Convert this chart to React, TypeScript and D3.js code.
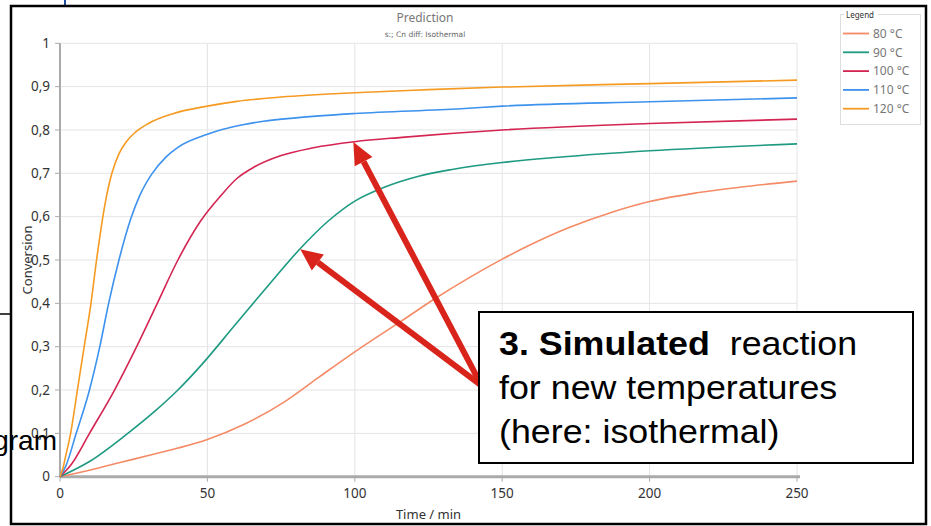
import React from "react";
import * as d3 from "d3";

// Isothermal conversion predictions, time in minutes
const series = ["80 °C", "90 °C", "100 °C", "110 °C", "120 °C"];
const colors = ["#F58B66", "#1E9A82", "#D42452", "#3D92EE", "#F59B22"];

const t80 = [0, 10, 20, 30, 40, 50, 62.5, 76, 87.5, 100, 116, 127, 139, 150, 158, 172.7, 187.5, 200, 216, 232, 250];
const v80 = [0, 0.015, 0.032, 0.049, 0.066, 0.086, 0.121, 0.172, 0.228, 0.288, 0.36, 0.41, 0.46, 0.502, 0.53, 0.575, 0.611, 0.635, 0.655, 0.669, 0.682];

const t90 = [0, 10, 23, 32, 40, 48, 59, 70.5, 82, 91, 100, 110, 122, 133, 150, 169, 200, 250];
const v90 = [0, 0.035, 0.1, 0.15, 0.2, 0.258, 0.347, 0.44, 0.53, 0.59, 0.636, 0.668, 0.694, 0.709, 0.725, 0.737, 0.752, 0.768];

const t100 = [0, 4, 10, 18.5, 26, 33, 40, 47.7, 54.5, 60, 66, 75, 86, 100, 116, 150, 200, 250];
const v100 = [0, 0.03, 0.1, 0.2, 0.3, 0.4, 0.5, 0.59, 0.648, 0.688, 0.715, 0.741, 0.759, 0.773, 0.783, 0.8, 0.815, 0.825];

const t110 = [0, 2, 5.5, 10, 13.5, 16.5, 20, 24, 27, 31, 36, 40, 50, 55, 62, 69, 80, 100, 136, 150, 200, 250];
const v110 = [0, 0.025, 0.1, 0.2, 0.3, 0.4, 0.5, 0.595, 0.648, 0.697, 0.738, 0.76, 0.79, 0.801, 0.812, 0.82, 0.828, 0.838, 0.849, 0.855, 0.865, 0.874];

const t120 = [0, 1, 2, 3.6, 5.9, 8.2, 10.5, 12.4, 15.3, 17.6, 20, 22.5, 25.6, 30, 38, 50, 60, 75, 100, 125, 150, 200, 250];
const v120 = [0, 0.02, 0.05, 0.1, 0.2, 0.3, 0.4, 0.5, 0.63, 0.7, 0.745, 0.773, 0.795, 0.815, 0.837, 0.855, 0.866, 0.876, 0.886, 0.893, 0.899, 0.907, 0.915];

const times = [t80, t90, t100, t110, t120];
const values = [v80, v90, v100, v110, v120];

const xTicks = [0, 50, 100, 150, 200, 250];
const yTicks = [0, 0.1, 0.2, 0.3, 0.4, 0.5, 0.6, 0.7, 0.8, 0.9, 1];

// Callout arrows: tail and heads in data units (time, conversion)
const arrowTail = { t: 143, v: 0.21 };
const arrowHeads = [
  { t: 99.5, v: 0.772 },
  { t: 81.5, v: 0.525 },
];

const calloutBold = "3. Simulated";
const calloutLines = ["reaction", "for new temperatures", "(here: isothermal)"];

const W = 931;
const H = 526;

export default function App() {
  const x = d3.scaleLinear().domain([0, 250]).range([60, 797]);
  const y = d3.scaleLinear().domain([0, 1]).range([476.7, 43.3]);
  const line = d3
    .line<[number, number]>()
    .x((d) => x(d[0]))
    .y((d) => y(d[1]))
    .curve(d3.curveMonotoneX);

  const fmt = (v: number) => (v === 0 || v === 1 ? String(v) : d3.format(".1f")(v).replace(".", ","));

  const arrow = (head: { t: number; v: number }, i: number) => {
    const x0 = x(arrowTail.t);
    const y0 = y(arrowTail.v);
    const x1 = x(head.t);
    const y1 = y(head.v);
    const ang = Math.atan2(y1 - y0, x1 - x0);
    const len = 22;
    const hw = 10;
    const bx = x1 - len * Math.cos(ang);
    const by = y1 - len * Math.sin(ang);
    const px = -Math.sin(ang);
    const py = Math.cos(ang);
    const pts = [
      [x1, y1],
      [bx + hw * px, by + hw * py],
      [bx - hw * px, by - hw * py],
    ];
    return (
      <g key={i}>
        <line x1={x0} y1={y0} x2={bx} y2={by} stroke="#D9241C" strokeWidth={6} />
        <polygon points={pts.map((p) => p.join(",")).join(" ")} fill="#D9241C" />
      </g>
    );
  };

  return (
    <svg
      width={W}
      height={H}
      style={{ position: "fixed", left: 0, top: 0, background: "#fff" }}
      fontFamily="'Noto Sans', sans-serif"
    >
      <rect x={0} y={0} width={W} height={H} fill="#fff" />

      {/* slide fragments around the chart */}
      <line x1={65} y1={0} x2={65} y2={6} stroke="#1F4E9A" strokeWidth={2} />
      <line x1={0} y1={314} x2={11} y2={314} stroke="#000" strokeWidth={1.5} />

      {/* gridlines */}
      {yTicks.map((v) => (
        <line key={"gy" + v} x1={x(0)} x2={x(250)} y1={y(v)} y2={y(v)} stroke="#E4E4E4" strokeWidth={1} />
      ))}
      {xTicks.map((t) => (
        <line key={"gx" + t} x1={x(t)} x2={x(t)} y1={y(0)} y2={y(1)} stroke="#E4E4E4" strokeWidth={1} />
      ))}

      {/* axes */}
      <line x1={x(0)} x2={x(0)} y1={y(1)} y2={y(0)} stroke="#AAAAAA" strokeWidth={2} />
      <line x1={x(0)} x2={x(250) + 3} y1={y(0)} y2={y(0)} stroke="#AAAAAA" strokeWidth={3} />
      {yTicks.map((v) => (
        <g key={"ty" + v}>
          <line x1={x(0) - 5} x2={x(0)} y1={y(v)} y2={y(v)} stroke="#AAAAAA" strokeWidth={1} />
          <text x={50} y={y(v)} dy="0.35em" textAnchor="end" fontSize={13.5} fill="#333">
            {fmt(v)}
          </text>
        </g>
      ))}
      {xTicks.map((t) => (
        <g key={"tx" + t}>
          <line x1={x(t)} x2={x(t)} y1={y(0)} y2={y(0) + 5} stroke="#AAAAAA" strokeWidth={1} />
          <text x={x(t)} y={498} textAnchor="middle" fontSize={13.5} fill="#333">
            {t}
          </text>
        </g>
      ))}
      <text x={(x(0) + x(250)) / 2} y={519} textAnchor="middle" fontSize={13} fill="#333">
        Time / min
      </text>
      <text
        transform={`translate(32,${(y(0) + y(1)) / 2}) rotate(-90)`}
        textAnchor="middle"
        fontSize={13}
        fill="#333"
      >
        Conversion
      </text>

      {/* title */}
      <text x={425} y={22} textAnchor="middle" fontSize={12} fill="#777">
        Prediction
      </text>
      <text x={425} y={37} textAnchor="middle" fontSize={7.5} fill="#666" fontFamily="'DejaVu Sans', sans-serif">
        s:; Cn diff: Isothermal
      </text>

      {/* curves */}
      {series.map((s, i) => (
        <path
          key={s}
          d={line(times[i].map((t, j) => [t, values[i][j]] as [number, number])) || ""}
          fill="none"
          stroke={colors[i]}
          strokeWidth={1.6}
        />
      ))}

      {/* legend */}
      <rect x={840.5} y={14.5} width={80} height={110} fill="#fff" stroke="#DDDDDD" strokeWidth={1} />
      <rect x={844} y={10} width={34} height={9} fill="#fff" />
      <text x={846} y={17.5} fontSize={8} fill="#333">
        Legend
      </text>
      {series.map((s, i) => (
        <g key={"lg" + s}>
          <line x1={843} x2={869} y1={33.5 + i * 18.8} y2={33.5 + i * 18.8} stroke={colors[i]} strokeWidth={1.8} />
          <text x={873} y={33.5 + i * 18.8} dy="0.35em" fontSize={12} fill="#777">
            {s}
          </text>
        </g>
      ))}

      {/* callout arrows */}
      {arrowHeads.map(arrow)}

      {/* callout box */}
      <rect x={479} y={312} width={434} height={151} fill="#fff" stroke="#000" strokeWidth={2} />
      <g fontFamily="'Liberation Sans', Arial, sans-serif" fontSize={33} fill="#000" transform="translate(499,0) scale(1.085,1)">
        <text x={0} y={355}>
          <tspan fontWeight="bold">{calloutBold}</tspan>
          <tspan xmlSpace="preserve">{"  " + calloutLines[0]}</tspan>
        </text>
        <text x={0} y={399.5}>
          {calloutLines[1]}
        </text>
        <text x={0} y={443}>
          {calloutLines[2]}
        </text>
      </g>

      {/* partial slide text at the left edge */}
      <text x={57} y={450} textAnchor="end" fontSize={28} fill="#000" fontFamily="'Liberation Sans', Arial, sans-serif">
        gram
      </text>

      {/* slide frame */}
      <rect x={11} y={6} width={915} height={518} fill="none" stroke="#000" strokeWidth={2.5} />
    </svg>
  );
}
